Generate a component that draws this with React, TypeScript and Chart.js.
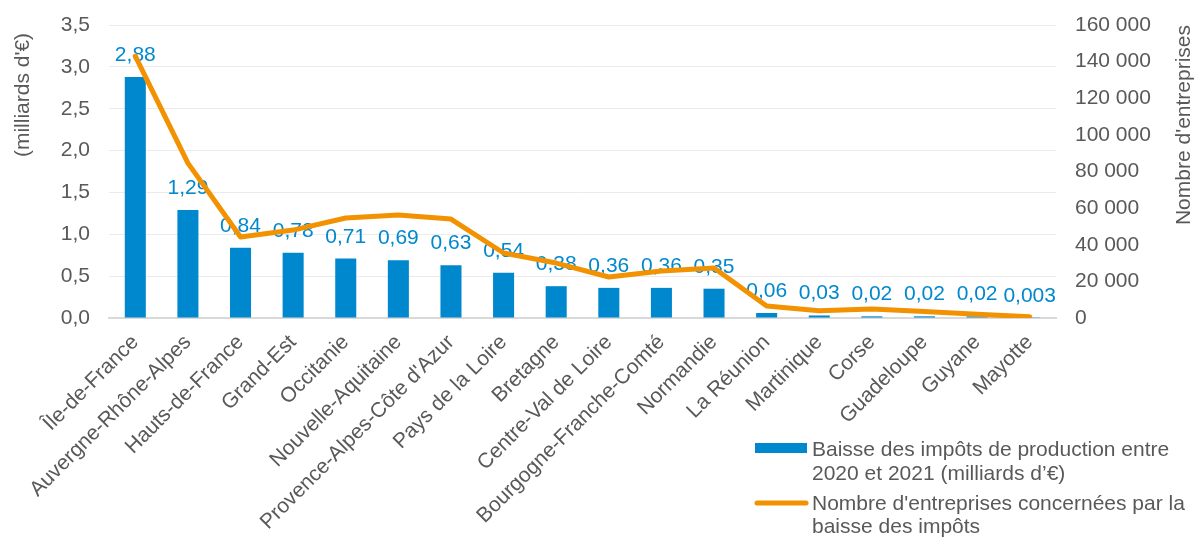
import React, { useEffect, useRef } from 'react';
import { Chart, registerables } from 'chart.js';

Chart.register(...registerables);

// ---- Data ----
const regions = [
  'Île-de-France',
  'Auvergne-Rhône-Alpes',
  'Hauts-de-France',
  'Grand-Est',
  'Occitanie',
  'Nouvelle-Aquitaine',
  "Provence-Alpes-Côte d'Azur",
  'Pays de la Loire',
  'Bretagne',
  'Centre-Val de Loire',
  'Bourgogne-Franche-Comté',
  'Normandie',
  'La Réunion',
  'Martinique',
  'Corse',
  'Guadeloupe',
  'Guyane',
  'Mayotte',
];

const taxCut = [2.88, 1.29, 0.84, 0.78, 0.71, 0.69, 0.63, 0.54, 0.38, 0.36, 0.36, 0.35, 0.06, 0.03, 0.02, 0.02, 0.02, 0.003];

const companies = [143000, 84600, 44200, 48000, 54600, 56200, 54000, 35500, 30000, 22400, 25700, 27300, 6600, 4000, 4900, 3500, 2000, 700];

const leftAxisTitle = "(milliards d'€)";
const rightAxisTitle = "Nombre d'entreprises";

const barLegendLines = ['Baisse des impôts de production entre', '2020 et 2021 (milliards d’€)'];
const lineLegendLines = ["Nombre d'entreprises concernées par la", 'baisse des impôts'];

// ---- Styles ----
const BLUE = '#0088CE';
const ORANGE = '#F39200';
const TEXT = '#595959';
const FONT = '"Liberation Sans", Arial, sans-serif';
const FS = 21;

const fmtDecimal = (v: number) => String(v).replace('.', ',');
const fmtThousands = (v: number) => String(Math.round(v)).replace(/\B(?=(\d{3})+(?!\d))/g, ' ');

const barLabelsPlugin = {
  id: 'barLabels',
  afterDatasetDraw(chart: any, args: any) {
    if (args.meta.type !== 'bar') return;
    const ctx = chart.ctx;
    ctx.save();
    ctx.font = `${FS}px ${FONT}`;
    ctx.fillStyle = BLUE;
    ctx.textAlign = 'center';
    ctx.textBaseline = 'alphabetic';
    args.meta.data.forEach((el: any, i: number) => {
      ctx.fillText(fmtDecimal(taxCut[i]), el.x, el.y - 16);
    });
    ctx.restore();
  },
};

const decorPlugin = {
  id: 'decor',
  afterDraw(chart: any) {
    const ctx = chart.ctx;
    ctx.save();
    ctx.font = `${FS}px ${FONT}`;
    ctx.fillStyle = TEXT;
    // axis titles
    ctx.textAlign = 'center';
    ctx.textBaseline = 'middle';
    ctx.save();
    ctx.translate(23, 95);
    ctx.rotate(-Math.PI / 2);
    ctx.fillText(leftAxisTitle, 0, 0);
    ctx.restore();
    ctx.save();
    ctx.translate(1184, 125);
    ctx.rotate(-Math.PI / 2);
    ctx.fillText(rightAxisTitle, 0, 0);
    ctx.restore();

    // legend
    ctx.textAlign = 'left';
    ctx.textBaseline = 'alphabetic';
    ctx.fillStyle = BLUE;
    ctx.fillRect(755, 443, 52, 10);
    ctx.fillStyle = TEXT;
    ctx.fillText(barLegendLines[0], 812, 456);
    ctx.fillText(barLegendLines[1], 812, 480);

    ctx.strokeStyle = ORANGE;
    ctx.lineWidth = 5;
    ctx.lineCap = 'round';
    ctx.beginPath();
    ctx.moveTo(757, 503);
    ctx.lineTo(806, 503);
    ctx.stroke();
    ctx.fillText(lineLegendLines[0], 812, 510);
    ctx.fillText(lineLegendLines[1], 812, 533);
    ctx.restore();
  },
};

const zeroPad = (s: any) => {
  s.paddingTop = 0;
  s.paddingBottom = 0;
  s.paddingLeft = 0;
  s.paddingRight = 0;
};

export default function App() {
  const canvasRef = useRef<HTMLCanvasElement | null>(null);

  useEffect(() => {
    document.body.style.margin = '0';
    const canvas = canvasRef.current;
    if (!canvas) return;
    Chart.defaults.font.family = FONT;
    Chart.defaults.font.size = FS;
    Chart.defaults.color = TEXT;

    const chart = new Chart(canvas, {
      type: 'bar',
      data: {
        labels: regions,
        datasets: [
          {
            type: 'line',
            label: lineLegendLines.join(' '),
            data: companies,
            yAxisID: 'y2',
            borderColor: ORANGE,
            backgroundColor: ORANGE,
            borderWidth: 5,
            borderCapStyle: 'round',
            borderJoinStyle: 'round',
            pointRadius: 0,
            tension: 0,
            order: 0,
          } as any,
          {
            type: 'bar',
            label: barLegendLines.join(' '),
            data: taxCut,
            yAxisID: 'y',
            backgroundColor: BLUE,
            barPercentage: 0.4,
            categoryPercentage: 1,
            order: 1,
          } as any,
        ],
      },
      options: {
        animation: false,
        responsive: true,
        maintainAspectRatio: false,
        devicePixelRatio: 1,
        layout: { padding: { top: 25, left: 0, right: 0, bottom: 0 } },
        plugins: {
          legend: { display: false },
          tooltip: { enabled: false },
        },
        scales: {
          x: {
            grid: { display: false, drawTicks: false },
            border: { display: true, color: '#d9d9d9', width: 2 },
            ticks: {
              autoSkip: false,
              maxRotation: 45,
              minRotation: 45,
              padding: 12,
              color: TEXT,
              font: { size: FS, family: FONT },
            },
            afterFit: (s: any) => {
              s.height = 219;
              zeroPad(s);
            },
          },
          y: {
            position: 'left',
            min: 0,
            max: 3.5,
            grid: { color: '#ebebeb', lineWidth: 1, drawTicks: false },
            border: { display: false },
            ticks: {
              stepSize: 0.5,
              padding: 19,
              color: TEXT,
              font: { size: FS, family: FONT },
              callback: (v: any) => Number(v).toFixed(1).replace('.', ','),
            },
            afterFit: (s: any) => {
              s.width = 109;
              zeroPad(s);
            },
          },
          y2: {
            position: 'right',
            min: 0,
            max: 160000,
            grid: { display: false, drawTicks: false },
            border: { display: false },
            ticks: {
              stepSize: 20000,
              padding: 19,
              color: TEXT,
              font: { size: FS, family: FONT },
              callback: (v: any) => fmtThousands(Number(v)),
            },
            afterFit: (s: any) => {
              s.width = 138;
              zeroPad(s);
            },
          },
        },
      } as any,
      plugins: [barLabelsPlugin, decorPlugin],
    });

    return () => {
      chart.destroy();
    };
  }, []);

  return (
    <div style={{ position: 'relative', width: 1194, height: 537 }}>
      <canvas ref={canvasRef} />
    </div>
  );
}
